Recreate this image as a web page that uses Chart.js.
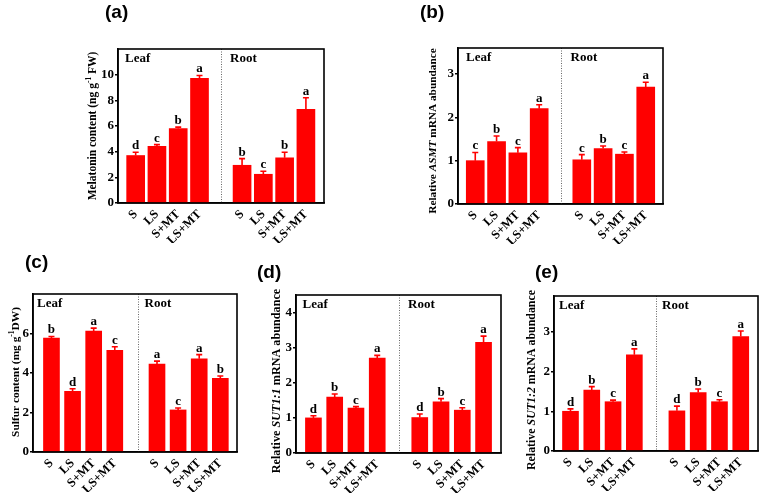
<!DOCTYPE html>
<html><head><meta charset="utf-8">
<script src="https://cdn.jsdelivr.net/npm/chart.js@4.4.0/dist/chart.umd.min.js"></script>
<style>
html,body{margin:0;padding:0;background:#fff;width:760px;height:495px;overflow:hidden}
#wrap{position:relative;width:760px;height:495px;background:#fff}
canvas{position:absolute;left:0;top:0}
</style></head><body><div id="wrap"></div>
<script>
// ---------- DATA ----------
const treatments = ['S', 'LS', 'S+MT', 'LS+MT'];
const tissues = ['Leaf', 'Root'];

// (a) Melatonin content (ng g-1 FW): Leaf S, LS, S+MT, LS+MT, Root S, LS, S+MT, LS+MT
const melatoninMean = [3.70, 4.42, 5.80, 9.71, 2.94, 2.24, 3.52, 7.29];
const melatoninErr = [0.25, 0.13, 0.11, 0.23, 0.52, 0.23, 0.43, 0.91];
const melatoninLetters = ['d', 'c', 'b', 'a', 'b', 'c', 'b', 'a'];
const melatoninTicks = [0, 2, 4, 6, 8, 10];

// (b) Relative ASMT mRNA abundance
const asmtMean = [1.00, 1.44, 1.18, 2.20, 1.02, 1.28, 1.15, 2.70];
const asmtErr = [0.19, 0.13, 0.12, 0.09, 0.12, 0.06, 0.05, 0.11];
const asmtLetters = ['c', 'b', 'c', 'a', 'c', 'b', 'c', 'a'];
const asmtTicks = [0, 1, 2, 3];

// (c) Sulfur content (mg g-1 DW)
const sulfurMean = [5.77, 3.07, 6.12, 5.15, 4.45, 2.13, 4.72, 3.73];
const sulfurErr = [0.08, 0.13, 0.15, 0.18, 0.15, 0.10, 0.21, 0.12];
const sulfurLetters = ['b', 'd', 'a', 'c', 'a', 'c', 'a', 'b'];
const sulfurTicks = [0, 2, 4, 6];

// (d) Relative SUT1:1 mRNA abundance
const sut11Mean = [1.00, 1.59, 1.28, 2.70, 1.01, 1.46, 1.22, 3.15];
const sut11Err = [0.06, 0.09, 0.04, 0.08, 0.10, 0.09, 0.07, 0.18];
const sut11Letters = ['d', 'b', 'c', 'a', 'd', 'b', 'c', 'a'];
const sut11Ticks = [0, 1, 2, 3, 4];

// (e) Relative SUT1:2 mRNA abundance
const sut12Mean = [1.00, 1.53, 1.24, 2.42, 1.01, 1.47, 1.24, 2.88];
const sut12Err = [0.06, 0.09, 0.04, 0.15, 0.12, 0.09, 0.05, 0.14];
const sut12Letters = ['d', 'b', 'c', 'a', 'd', 'b', 'c', 'a'];
const sut12Ticks = [0, 1, 2, 3];

// ---------- LAYOUT / STYLE ----------
const SERIF = '"Liberation Serif", "Times New Roman", serif';
const SANS = '"Liberation Sans", Arial, sans-serif';
const RED = '#ff0000';

const panels = [
  { tag: '(a)', tagX: 105, tagY: 18, mean: melatoninMean, err: melatoninErr, letters: melatoninLetters,
    yTicks: melatoninTicks, yMax: 12, area: { l: 118, r: 324, t: 49, b: 203 }, xMin: -0.83, xMax: 8.85,
    div: 4, barW: 18, leafDx: 7, rootDx: 8.5, titleSize: 11.5,
    title: [['Melatonin content (ng g', 'n'], ['-1', 'sup'], [' FW)', 'n']], titleX: 93, titleY: 126 },
  { tag: '(b)', tagX: 420, tagY: 18, mean: asmtMean, err: asmtErr, letters: asmtLetters,
    yTicks: asmtTicks, yMax: 3.6, area: { l: 458, r: 663, t: 48, b: 204 }, xMin: -0.81, xMax: 8.81,
    div: 4, barW: 18, leafDx: 8, rootDx: 9, titleSize: 11.3,
    title: [['Relative ', 'n'], ['ASMT', 'i'], [' mRNA abundance', 'n']], titleX: 433, titleY: 131 },
  { tag: '(c)', tagX: 25, tagY: 268, mean: sulfurMean, err: sulfurErr, letters: sulfurLetters,
    yTicks: sulfurTicks, yMax: 8, area: { l: 33, r: 237, t: 294, b: 452 }, xMin: -0.875, xMax: 8.79,
    div: 4.11, barW: 16, leafDx: 4, rootDx: 6, titleSize: 11.4,
    title: [['Sulfur content (mg g', 'n'], ['-1', 'sup'], ['DW)', 'n']], titleX: 16, titleY: 372 },
  { tag: '(d)', tagX: 257, tagY: 278, mean: sut11Mean, err: sut11Err, letters: sut11Letters,
    yTicks: sut11Ticks, yMax: 4.5, area: { l: 296, r: 501, t: 295, b: 453 }, xMin: -0.82, xMax: 8.82,
    div: 4, barW: 16, leafDx: 6.5, rootDx: 8.5, titleSize: 12.2,
    title: [['Relative ', 'n'], ['SUT1:1', 'i'], [' mRNA abundance', 'n']], titleX: 277, titleY: 381 },
  { tag: '(e)', tagX: 535, tagY: 278, mean: sut12Mean, err: sut12Err, letters: sut12Letters,
    yTicks: sut12Ticks, yMax: 3.9, area: { l: 554, r: 758, t: 296, b: 451 }, xMin: -0.775, xMax: 8.81,
    div: 4, barW: 16, leafDx: 5, rootDx: 5.5, titleSize: 11.9,
    title: [['Relative ', 'n'], ['SUT1:2', 'i'], [' mRNA abundance', 'n']], titleX: 532, titleY: 380 }
];

const xPos = i => (i < 4 ? i : i + 1);
const xTickPositions = [0, 1, 2, 3, 5, 6, 7, 8];

function makeDecor(p) {
  return {
    id: 'decor',
    afterDatasetsDraw(chart) {
      const ctx = chart.ctx, xs = chart.scales.x, ys = chart.scales.y, ca = chart.chartArea;
      ctx.save();
      // error bars + letters
      p.mean.forEach((m, i) => {
        const x = xs.getPixelForValue(xPos(i));
        const yTop = ys.getPixelForValue(m);
        const yErr = ys.getPixelForValue(m + p.err[i]);
        ctx.strokeStyle = RED; ctx.lineWidth = 1.6;
        ctx.beginPath();
        ctx.moveTo(x, yTop); ctx.lineTo(x, yErr);
        ctx.moveTo(x - 3, yErr); ctx.lineTo(x + 3, yErr);
        ctx.stroke();
        ctx.fillStyle = '#000';
        ctx.font = 'bold 13px ' + SERIF;
        ctx.textAlign = 'center'; ctx.textBaseline = 'alphabetic';
        ctx.fillText(p.letters[i], x, yErr - 3);
      });
      // divider
      const dx = Math.round(xs.getPixelForValue(p.div)) + 0.5;
      ctx.strokeStyle = '#666'; ctx.lineWidth = 1; ctx.setLineDash([1, 1.5]);
      ctx.beginPath(); ctx.moveTo(dx, ca.top); ctx.lineTo(dx, ca.bottom); ctx.stroke();
      ctx.setLineDash([]);
      // frame
      ctx.strokeStyle = '#000'; ctx.lineWidth = 1.6;
      ctx.strokeRect(ca.left, ca.top, ca.right - ca.left, ca.bottom - ca.top);
      // Leaf / Root labels
      ctx.fillStyle = '#000'; ctx.font = 'bold 13px ' + SERIF;
      ctx.textAlign = 'left'; ctx.textBaseline = 'alphabetic';
      ctx.fillText(tissues[0], ca.left + p.leafDx, ca.top + 13);
      ctx.fillText(tissues[1], dx + p.rootDx, ca.top + 13);
      // panel tag
      ctx.font = 'bold 19px ' + SANS;
      ctx.fillText(p.tag, p.tagX, p.tagY);
      // axis title (rotated)
      ctx.translate(p.titleX, p.titleY);
      ctx.rotate(-Math.PI / 2);
      const sz = p.titleSize;
      const fontFor = s => s === 'i' ? 'italic bold ' + sz + 'px ' + SERIF : (s === 'sup' ? 'bold ' + (sz * 0.65) + 'px ' + SERIF : 'bold ' + sz + 'px ' + SERIF);
      let total = 0;
      p.title.forEach(([t, s]) => { ctx.font = fontFor(s); total += ctx.measureText(t).width; });
      let cx = -total / 2;
      ctx.textBaseline = 'middle';
      p.title.forEach(([t, s]) => {
        ctx.font = fontFor(s);
        ctx.fillText(t, cx, s === 'sup' ? -4 : 0);
        cx += ctx.measureText(t).width;
      });
      ctx.restore();
    }
  };
}

const wrap = document.getElementById('wrap');
panels.forEach(p => {
  const cv = document.createElement('canvas');
  cv.width = 760; cv.height = 495;
  cv.style.width = '760px'; cv.style.height = '495px';
  wrap.appendChild(cv);
  const YW = 40, XH = 40;
  new Chart(cv.getContext('2d'), {
    type: 'bar',
    data: {
      datasets: [{
        data: p.mean.map((m, i) => ({ x: xPos(i), y: m })),
        backgroundColor: RED,
        borderWidth: 0,
        barThickness: p.barW
      }]
    },
    options: {
      responsive: false,
      animation: false,
      devicePixelRatio: 1,
      layout: { padding: { left: p.area.l - YW, right: 760 - p.area.r, top: p.area.t, bottom: 495 - p.area.b - XH } },
      plugins: { legend: { display: false }, tooltip: { enabled: false } },
      scales: {
        x: {
          type: 'linear', min: p.xMin, max: p.xMax, offset: false,
          afterBuildTicks: s => { s.ticks = xTickPositions.map(v => ({ value: v })); },
          afterFit: s => { s.height = XH; },
          grid: { display: false, drawTicks: false, offset: false },
          border: { display: true, color: '#000', width: 1.6 },
          ticks: {
            autoSkip: false, minRotation: 45, maxRotation: 45, padding: 4,
            color: '#000', font: { family: SERIF, weight: 'bold', size: 12.5 },
            callback: (v, idx) => treatments[idx % 4]
          }
        },
        y: {
          type: 'linear', min: 0, max: p.yMax,
          afterBuildTicks: s => { s.ticks = p.yTicks.map(v => ({ value: v })); },
          afterFit: s => { s.width = YW; },
          grid: { drawOnChartArea: false, drawTicks: true, tickLength: 3, color: '#000', lineWidth: 1.4 },
          border: { display: true, color: '#000', width: 1.6 },
          ticks: { padding: 1, color: '#000', font: { family: SERIF, weight: 'bold', size: 13 } }
        }
      }
    },
    plugins: [makeDecor(p)]
  });
});
</script>
</body></html>
